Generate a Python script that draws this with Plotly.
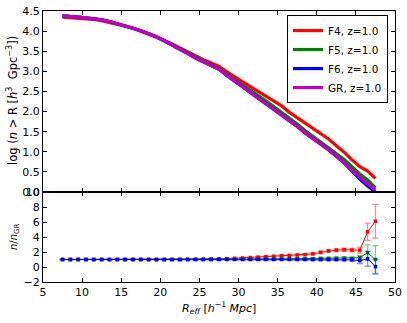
import plotly.graph_objects as go

# ---------------- data ----------------
r_eff = [7.5 + i for i in range(41)]

log_gr = [4.38, 4.37, 4.35, 4.33, 4.31, 4.28, 4.24, 4.19, 4.13, 4.07,
          4.01, 3.94, 3.86, 3.76, 3.66, 3.55, 3.44, 3.33, 3.24, 3.15,
          3.05, 2.90, 2.76, 2.62, 2.48, 2.35, 2.21, 2.07, 1.93, 1.79,
          1.63, 1.47, 1.33, 1.20, 1.05, 0.89, 0.73, 0.54, 0.36, 0.20, 0.05]
log_f4 = [4.35, 4.34, 4.33, 4.31, 4.29, 4.26, 4.22, 4.18, 4.12, 4.07,
          4.00, 3.93, 3.86, 3.77, 3.68, 3.58, 3.48, 3.38, 3.29, 3.21,
          3.12, 2.99, 2.86, 2.74, 2.62, 2.50, 2.38, 2.26, 2.14, 1.98,
          1.85, 1.72, 1.58, 1.45, 1.32, 1.15, 0.99, 0.80, 0.63, 0.52, 0.34]
log_f5 = [4.38, 4.37, 4.35, 4.33, 4.31, 4.28, 4.24, 4.19, 4.13, 4.07,
          4.01, 3.94, 3.86, 3.76, 3.66, 3.56, 3.45, 3.34, 3.25, 3.16,
          3.07, 2.92, 2.79, 2.66, 2.52, 2.40, 2.27, 2.13, 1.99, 1.84,
          1.69, 1.53, 1.39, 1.25, 1.11, 0.96, 0.81, 0.63, 0.45, 0.30, 0.10]
log_f6 = [4.38, 4.37, 4.35, 4.33, 4.31, 4.28, 4.24, 4.19, 4.13, 4.07,
          4.01, 3.94, 3.86, 3.76, 3.66, 3.55, 3.44, 3.33, 3.24, 3.15,
          3.05, 2.90, 2.76, 2.62, 2.48, 2.35, 2.21, 2.07, 1.93, 1.79,
          1.63, 1.47, 1.33, 1.20, 1.05, 0.89, 0.72, 0.52, 0.32, 0.15, 0.00]

ratio_f4 = [1.0, 1.0, 1.0, 1.0, 1.0, 1.0, 1.0, 1.0, 1.0, 1.0,
            1.0, 1.0, 1.0, 1.0, 1.0, 1.0, 1.02, 1.03, 1.05, 1.07,
            1.09, 1.12, 1.16, 1.20, 1.26, 1.32, 1.38, 1.44, 1.50, 1.55,
            1.60, 1.65, 1.75, 1.95, 2.15, 2.25, 2.30, 2.25, 2.25, 4.70, 6.10]
err_f4 = [0.02, 0.02, 0.02, 0.02, 0.02, 0.02, 0.02, 0.02, 0.02, 0.02,
          0.02, 0.03, 0.03, 0.03, 0.03, 0.04, 0.04, 0.04, 0.05, 0.05,
          0.05, 0.06, 0.06, 0.07, 0.07, 0.08, 0.08, 0.09, 0.10, 0.10,
          0.11, 0.12, 0.13, 0.15, 0.16, 0.18, 0.20, 0.22, 0.40, 1.15, 2.25]
ratio_f5 = [1.0, 1.0, 1.0, 1.0, 1.0, 1.0, 1.0, 1.0, 1.0, 1.0,
            1.0, 1.0, 1.0, 1.0, 1.0, 1.0, 1.0, 1.0, 1.0, 1.0,
            1.01, 1.02, 1.03, 1.04, 1.05, 1.06, 1.07, 1.08, 1.09, 1.10,
            1.11, 1.12, 1.13, 1.15, 1.16, 1.18, 1.20, 1.15, 1.25, 1.90, 1.00]
err_f5 = [0.02, 0.02, 0.02, 0.02, 0.02, 0.02, 0.02, 0.02, 0.02, 0.02,
          0.02, 0.02, 0.02, 0.03, 0.03, 0.03, 0.03, 0.04, 0.04, 0.04,
          0.05, 0.05, 0.05, 0.06, 0.06, 0.07, 0.07, 0.08, 0.08, 0.09,
          0.10, 0.10, 0.11, 0.12, 0.13, 0.14, 0.16, 0.18, 0.30, 1.05, 1.85]
ratio_f6 = [1.0, 1.0, 1.0, 1.0, 1.0, 1.0, 1.0, 1.0, 1.0, 1.0,
            1.0, 1.0, 1.0, 1.0, 1.0, 1.0, 1.0, 1.0, 1.0, 1.0,
            1.0, 1.0, 1.0, 1.0, 1.0, 1.0, 1.0, 1.0, 1.0, 1.0,
            0.99, 0.99, 0.98, 0.98, 0.98, 0.98, 0.97, 0.95, 0.85, 1.10, 0.05]
err_f6 = [0.02, 0.02, 0.02, 0.02, 0.02, 0.02, 0.02, 0.02, 0.02, 0.02,
          0.02, 0.02, 0.02, 0.03, 0.03, 0.03, 0.03, 0.04, 0.04, 0.04,
          0.05, 0.05, 0.05, 0.06, 0.06, 0.07, 0.07, 0.08, 0.08, 0.09,
          0.10, 0.10, 0.11, 0.12, 0.13, 0.14, 0.16, 0.18, 0.40, 1.00, 1.00]

series_names = ["F4, z=1.0", "F5, z=1.0", "F6, z=1.0", "GR, z=1.0"]
y_ticks_top = [0.0, 0.5, 1.0, 1.5, 2.0, 2.5, 3.0, 3.5, 4.0, 4.5]
y_ticks_bottom = [-2, 0, 2, 4, 6, 8, 10]
x_ticks = [5, 10, 15, 20, 25, 30, 35, 40, 45, 50]

# ---------------- figure ----------------
RED = "rgb(255,0,0)"
GREEN = "rgb(0,128,0)"
BLUE = "rgb(0,0,255)"
MAG = "rgb(191,0,191)"
colors = [RED, GREEN, BLUE, MAG]
alpha_cols = ["rgba(255,0,0,0.45)", "rgba(0,128,0,0.45)", "rgba(0,0,255,0.45)"]

fig = go.Figure()

for name, ys, c in zip(series_names, [log_f4, log_f5, log_f6, log_gr], colors):
    fig.add_trace(go.Scatter(x=r_eff, y=ys, mode="lines", name=name,
                             line=dict(color=c, width=3.2),
                             xaxis="x", yaxis="y"))

for ys, es, c, ac in zip([ratio_f4, ratio_f5, ratio_f6],
                         [err_f4, err_f5, err_f6], colors[:3], alpha_cols):
    fig.add_trace(go.Scatter(x=r_eff, y=ys, mode="lines+markers",
                             showlegend=False,
                             line=dict(color=c, width=1),
                             marker=dict(color=c, size=3.5, symbol="square"),
                             error_y=dict(type="data", array=es, visible=True,
                                          color=ac, thickness=1.3, width=3),
                             xaxis="x2", yaxis="y2"))

axis_common = dict(showline=True, linecolor="black", linewidth=1,
                   mirror="allticks", ticks="inside", ticklen=4,
                   tickcolor="black", showgrid=False, zeroline=False,
                   automargin=False,
                   tickfont=dict(family="DejaVu Sans", size=11, color="black"))

W, H = 407, 323
L, R, T, B = 43, 12, 11, 41
PW, PH = W - L - R, H - T - B
split = 90 / PH


def px_to_paper(px, py):
    return (px - L) / PW, 1 - (py - T) / PH


fig.update_layout(
    width=W, height=H,
    margin=dict(l=L, r=R, t=T, b=B, pad=0),
    paper_bgcolor="white", plot_bgcolor="white",
    font=dict(family="DejaVu Sans", size=11, color="black"),
    xaxis=dict(domain=[0, 1], range=[5, 50], tickvals=x_ticks,
               showticklabels=False, anchor="y", **axis_common),
    yaxis=dict(domain=[split, 1], range=[0, 4.5], tickvals=y_ticks_top,
               tickformat=".1f", anchor="x", **axis_common),
    xaxis2=dict(domain=[0, 1], range=[5, 50], tickvals=x_ticks, anchor="y2",
                **axis_common),
    yaxis2=dict(domain=[0, split], range=[-2, 10], tickvals=y_ticks_bottom,
                anchor="x2", **axis_common),
    legend=dict(x=0.98, y=0.985, xanchor="right", yanchor="top",
                bordercolor="black", borderwidth=1, bgcolor="white",
                font=dict(size=10.5), tracegroupgap=0, itemwidth=30),
)

titles = [
    ("log (<i>n</i> > R [<i>h</i><sup>3</sup>  Gpc<sup>−3</sup>])", 13, 101, -90, 11.5),
    ("<i>n</i>/<i>n</i><sub>GR</sub>", 14, 237, -90, 10),
    ("<i>R</i><sub><i>eff</i></sub> [<i>h</i><sup>−1</sup> <i>Mpc</i>]", 219, 308, 0, 11),
]
for txt, px, py, ang, fs in titles:
    ax, ay = px_to_paper(px, py)
    fig.add_annotation(text=txt, x=ax, y=ay, xref="paper", yref="paper",
                       xanchor="center", yanchor="middle", showarrow=False,
                       textangle=ang, font=dict(size=fs, color="black"))

fig.write_html("out.html",
               config={"displayModeBar": False},
               post_script="document.body.style.margin='0';"
                           "document.body.style.overflow='hidden';")
